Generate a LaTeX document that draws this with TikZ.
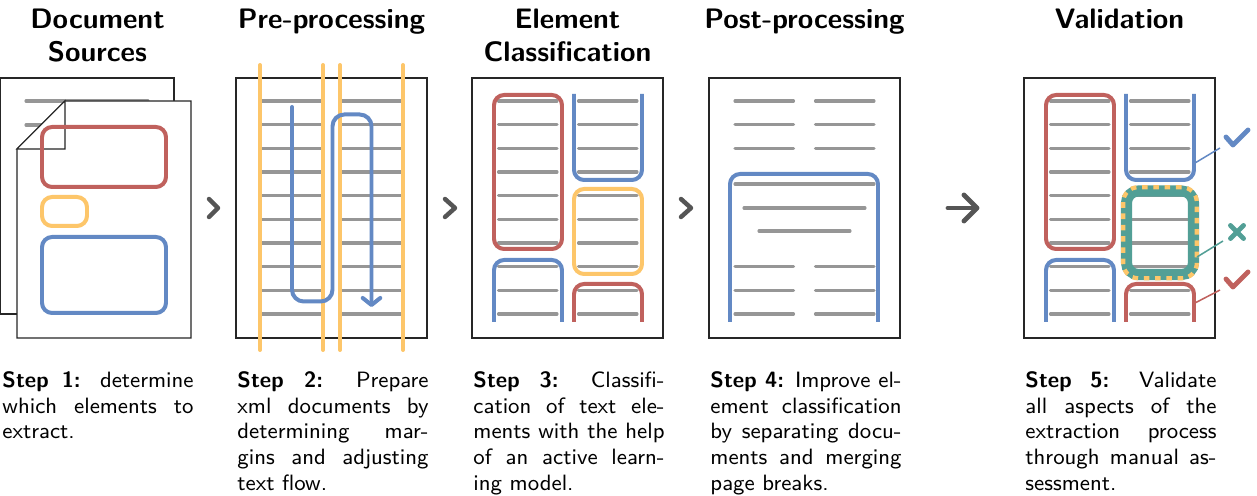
\documentclass[tikz,border=0pt]{standalone}
\usetikzlibrary{arrows.meta}
\definecolor{cred}{RGB}{192,97,93}
\definecolor{cyel}{RGB}{253,198,106}
\definecolor{cblue}{RGB}{99,137,196}
\definecolor{cteal}{RGB}{82,159,150}
\definecolor{cgray}{RGB}{150,150,150}
\definecolor{cdark}{RGB}{85,85,85}
\tikzset{
  pageframe/.style={draw=black!85, line width=0.45pt, fill=white},
  tline/.style={draw=cgray, line width=1.3pt, line cap=round},
  cbox/.style={line width=1.7pt, rounded corners=4.3pt},
  heading/.style={font=\large\bfseries\sffamily, align=center, anchor=north, inner sep=0pt},
  captext/.style={font=\fontsize{9.45}{11}\selectfont\sffamily, text width=81.4pt, align=justify, anchor=north west, inner sep=0pt},
  chev/.style={draw=cdark, line width=1.9pt, line cap=round, line join=round},
  tickmark/.style={line width=2.1pt, line cap=round, line join=round},
  leader/.style={line width=0.65pt},
}
% rows of text lines: #1 x-left, #2 x-right, #3 list of row indices
\newcommand\textrows[3]{%
  \foreach \i in {#3}{%
    \pgfmathsetmacro\yy{101+(\i-1)*23.667}%
    \draw[tline] (#1,\yy) -- (#2,\yy);%
  }%
}
\begin{document}
\begin{tikzpicture}[x=0.426pt, y=-0.426pt]
\useasboundingbox (0,0) rectangle (1257,496);

% ---------- titles ----------
\node[heading] (t1) at (97.5,8.5) {Document\\Sources};
\node[heading] (t2) at (331.5,8.5) {Pre-processing};
\node[heading] (t3) at (567.5,8.5) {Element\\Classification};
\node[heading] (t4) at (804.5,8.5) {Post-processing};
\node[heading] (t5) at (1119.5,8.5) {Validation};

% ---------- captions ----------
\node[captext] (c1) at (2,371) {\textbf{Step 1:} determine\linebreak which elements to\linebreak extract.};
\node[captext] (c2) at (237,371) {\textbf{Step 2:} Prepare\linebreak xml documents by\linebreak determining mar-\linebreak gins and adjusting\linebreak text flow.};
\node[captext] (c3) at (473,371) {\textbf{Step 3:} Classifi-\linebreak cation of text ele-\linebreak ments with the help\linebreak of an active learn-\linebreak ing model.};
\node[captext] (c4) at (710,371) {\textbf{Step 4:} Improve el-\linebreak ement classification\linebreak by separating docu-\linebreak ments and merging\linebreak page breaks.};
\node[captext] (c5) at (1025,371) {\textbf{Step 5:} Validate\linebreak all aspects of the\linebreak extraction process\linebreak through manual as-\linebreak sessment.};

% ---------- page 1: document sources ----------
\draw[pageframe] (0.5,78) rectangle (174,314);
\draw[tline] (26,101) -- (148,101);
\draw[tline] (26,125) -- (148,125);
\draw[pageframe] (65,101) -- (191,101) -- (191,338) -- (17,338) -- (17,149) -- cycle;
\draw[pageframe] (65,101) -- (65,149) -- (17,149) -- cycle;
\draw[cbox, cred] (42,127) rectangle (166,187);
\draw[cbox, cyel] (42,197) rectangle (87,226);
\draw[cbox, cblue] (42,237) rectangle (166,313);

% chevron 1
\draw[chev] (209,199) -- (218,208) -- (209,217);

% ---------- page 2: pre-processing ----------
\draw[pageframe] (236,78) rectangle (427,338);
\textrows{260}{323}{1,...,10}
\textrows{340}{403}{1,...,10}
\foreach \x in {260,323,340,403}
  \draw[cyel, line width=1.7pt, line cap=round] (\x,65) -- (\x,350);
\draw[cblue, line width=1.7pt, line cap=round, rounded corners=5pt,
      -{Straight Barb[length=3pt,width=7.5pt,round]}]
  (292,107) -- (292,301.5) -- (332.5,301.5) -- (332.5,114.5) -- (371.5,114.5) -- (371.5,307);

% chevron 2
\draw[chev] (445,199) -- (455,208) -- (445,217);

% ---------- page 3: element classification ----------
\draw[pageframe] (472,78) rectangle (663,338);
\textrows{498.5}{557}{1,...,10}
\textrows{578.5}{637}{1,...,10}
\draw[cbox, cred] (494,95) rectangle (562,249);
\draw[cbox, cblue] (574,94) -- (574,180) -- (642,180) -- (642,94);
\draw[cbox, cyel] (574,189) rectangle (642,274);
\draw[cbox, cblue] (494,322) -- (494,260) -- (562,260) -- (562,322);
\draw[cbox, cred] (574,322) -- (574,284) -- (642,284) -- (642,322);

% chevron 3
\draw[chev] (681,199) -- (691,208) -- (681,217);

% ---------- page 4: post-processing ----------
\draw[pageframe] (709,78) rectangle (900,338);
\textrows{735}{793.5}{1,2,3,8,9,10}
\textrows{815.5}{874}{1,2,3,8,9,10}
\draw[cbox, cblue] (730,322) -- (730,174) -- (878,174) -- (878,322);
\draw[tline] (735,184) -- (874,184);
\draw[tline] (744,208) -- (865,208);
\draw[tline] (759,231) -- (850,231);

% arrow to validation
\draw[chev, line width=2.1pt] (948,208) -- (976,208);
\draw[chev, line width=2.1pt] (964,195) -- (977,208) -- (964,221);

% ---------- page 5: validation ----------
\draw[pageframe] (1024,78) rectangle (1215,338);
\textrows{1050.5}{1109}{1,...,10}
\textrows{1130.5}{1189}{1,...,10}
\draw[cbox, cred] (1046,95) rectangle (1114,249);
\draw[cbox, cblue] (1126,94) -- (1126,180) -- (1194,180) -- (1194,94);
\draw[cteal, line width=4.7pt, rounded corners=5pt] (1126.5,191) rectangle (1193.5,274.5);
\draw[cyel, line width=1.8pt, rounded corners=6.4pt, dash pattern=on 2.4pt off 2.4pt]
  (1123.2,187.2) rectangle (1196.8,278.3);
\draw[cbox, cblue] (1046,322) -- (1046,260) -- (1114,260) -- (1114,322);
\draw[cbox, cred] (1126,322) -- (1126,284) -- (1194,284) -- (1194,322);

% leaders and marks
\draw[cblue, leader] (1195,163) -- (1220,148);
\draw[cblue, tickmark] (1226,137) -- (1233,145) -- (1248,130);
\draw[cteal, leader] (1197,257) -- (1223,241);
\draw[cteal, tickmark] (1230.5,225.5) -- (1243.5,238.5) (1230.5,238.5) -- (1243.5,225.5);
\draw[cred, leader] (1195,303) -- (1220,290);
\draw[cred, tickmark] (1226,279) -- (1233,287) -- (1248,272);
\end{tikzpicture}
\end{document}
